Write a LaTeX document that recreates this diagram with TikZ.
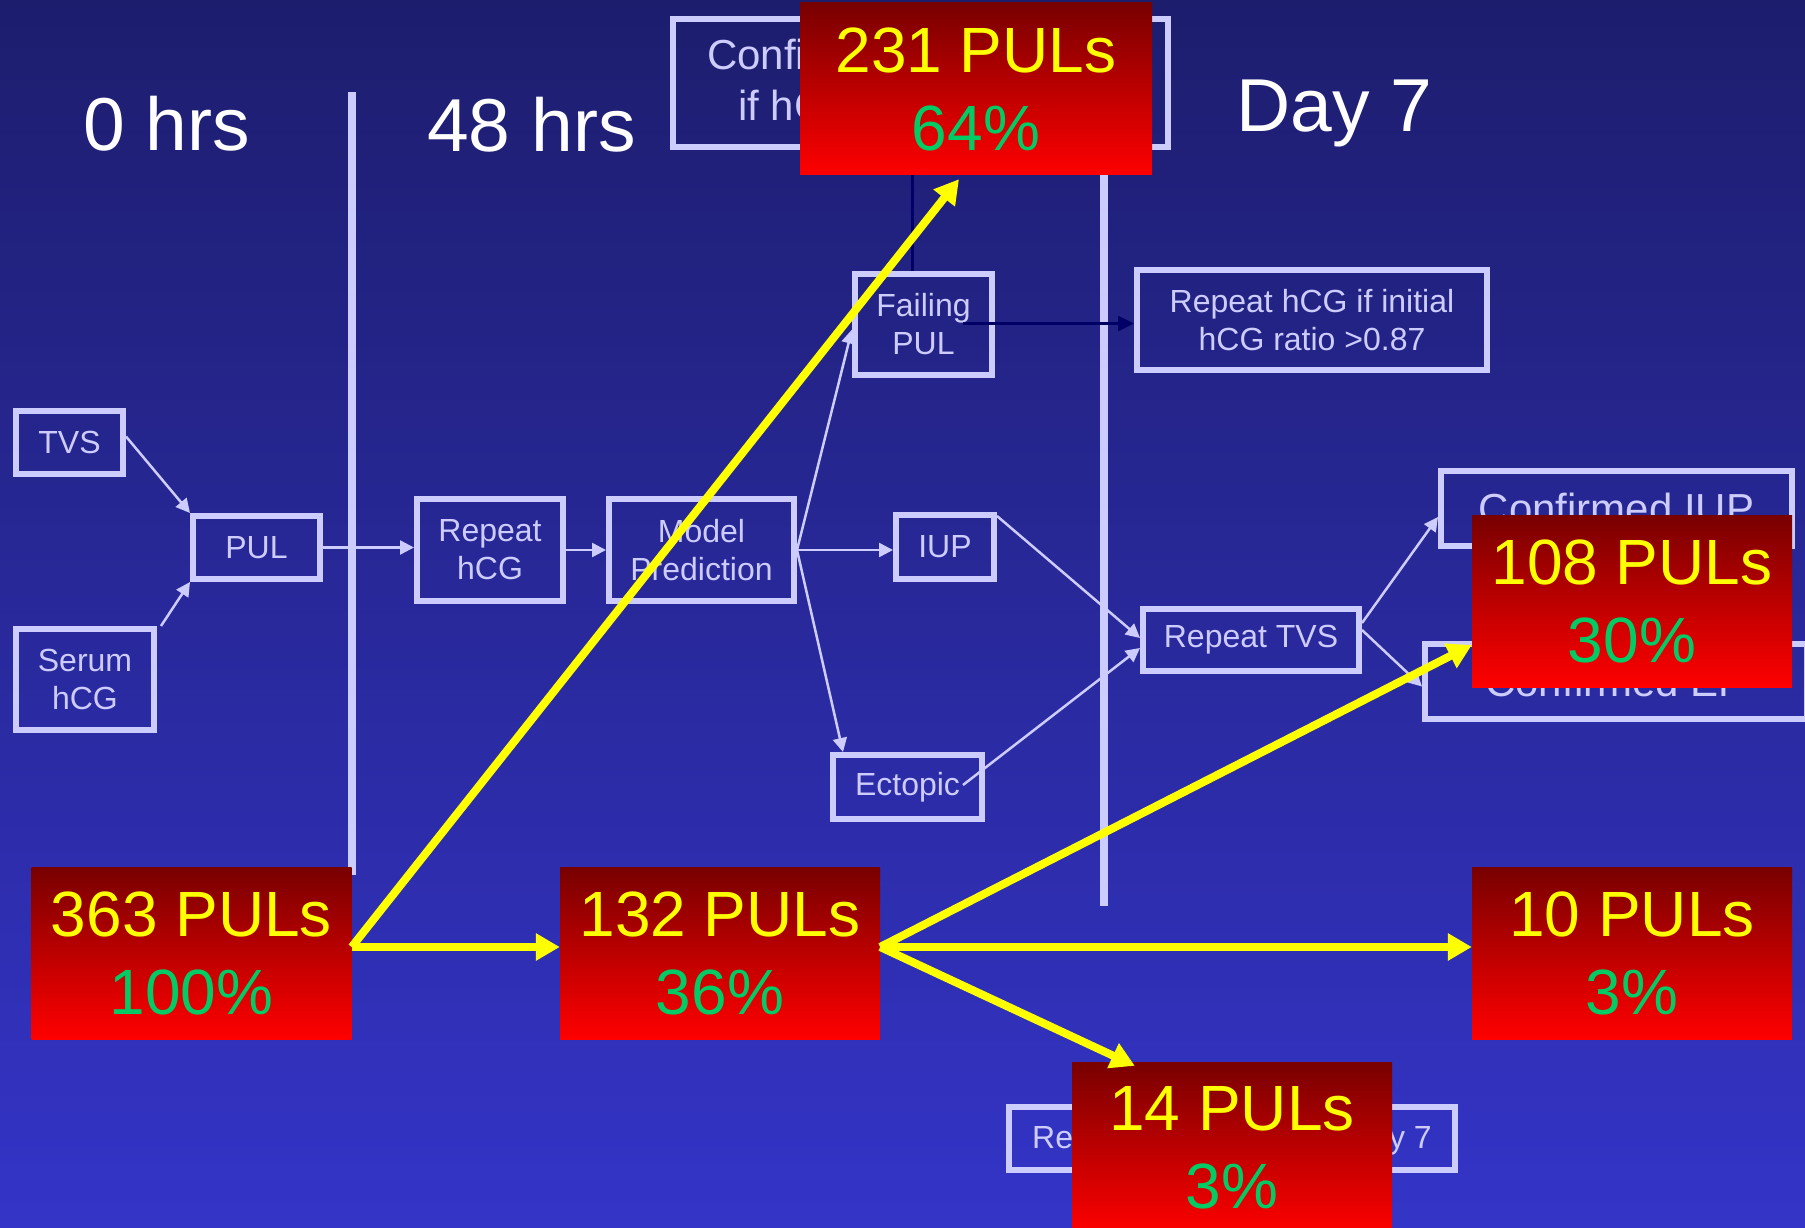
\documentclass[tikz,border=0pt]{standalone}
\usepackage{fontspec}
\setmainfont{Liberation Sans}
\usetikzlibrary{arrows.meta,calc}
\definecolor{bgtop}{RGB}{29,29,110}
\definecolor{bgbot}{RGB}{52,52,200}
\definecolor{lav}{RGB}{204,204,255}
\definecolor{rtop}{RGB}{120,0,0}
\definecolor{rbot}{RGB}{255,0,0}
\definecolor{yel}{RGB}{255,255,0}
\definecolor{grn}{RGB}{0,204,102}
\definecolor{navyc}{RGB}{0,0,102}
\begin{document}
\begin{tikzpicture}[x=1pt,y=-1pt,
  lbox/.style={draw=lav,line width=6pt,inner sep=0pt,align=center,text=lav,font=\fontsize{32}{38}\selectfont},
  bigtxt/.style={text=lav,inner sep=0pt,font=\fontsize{42}{50}\selectfont},
  smalltxt/.style={text=lav,inner sep=0pt,font=\fontsize{32}{38}\selectfont},
  redbox/.style={top color=rtop,bottom color=rbot,draw=none,inner sep=0pt,minimum width=320pt,minimum height=172pt,align=center,font=\fontsize{64}{78}\selectfont},
  conn/.style={draw=lav,line width=2.5pt,-{Triangle[length=14pt,width=14pt]}},
  dconn/.style={draw=navyc,line width=2.5pt,-{Triangle[length=16pt,width=15pt]}},
  yarr/.style={draw=yel,line width=8pt,-{Triangle[length=24pt,width=26pt]}},
  divider/.style={draw=lav,line width=8pt},
  header/.style={text=white,font=\fontsize{75}{90}\selectfont,inner sep=0pt,anchor=base}
]
\useasboundingbox (0,0) rectangle (1805,1228);
\clip (0,0) rectangle (1805,1228);
\shade[top color=bgtop,bottom color=bgbot] (0,0) rectangle (1805,1228);

% headers
\node[header] (h0) at (166.5,150) {0 hrs};
\node[header] (h48) at (531.5,152) {48 hrs};
\node[header] (h7) at (1334.5,132) {Day 7};

% lavender boxes
\node[lbox,minimum width=107pt,minimum height=63pt] (tvs) at (69.5,442.5) {TVS};
\node[lbox,minimum width=138pt,minimum height=101pt] (serum) at (85,679.5) {Serum\\hCG};
\node[lbox,minimum width=127pt,minimum height=63pt] (pul) at (256.5,547.5) {PUL};
\node[lbox,minimum width=146pt,minimum height=102pt] (rhcg) at (490,550) {Repeat\\hCG};
\node[lbox,minimum width=185pt,minimum height=102pt] (model) at (701.5,550) {Model\\Prediction};
\node[lbox,minimum width=98pt,minimum height=64pt] (iup) at (945,547) {IUP};
\node[lbox,minimum width=149pt,minimum height=64pt] (ectopic) at (907.5,787) {Ectopic};
\node[lbox,minimum width=137pt,minimum height=101pt] (failing) at (923.5,324.5) {Failing\\PUL};
\node[lbox,minimum width=495pt,minimum height=128pt] (confirm) at (920.5,83) {};
\node[bigtxt,anchor=base west] (conft1) at (707,70) {Confirm};
\node[bigtxt,anchor=base west] (conft2) at (738,121) {if hCG};
\node[lbox,minimum width=350pt,minimum height=100pt] (rhi) at (1312,320) {Repeat hCG if initial\\hCG ratio >0.87};
\node[lbox,minimum width=216pt,minimum height=62pt] (rtvs) at (1251,640) {Repeat TVS};
\node[lbox,minimum width=351pt,minimum height=75pt,font=\fontsize{42}{50}\selectfont] (ciup) at (1616.5,508.5) {Confirmed IUP};
\node[lbox,minimum width=382pt,minimum height=75pt,font=\fontsize{42}{50}\selectfont] (cep) at (1616,681.5) {Confirmed EP};
\node[lbox,minimum width=446pt,minimum height=63pt] (rday) at (1232,1138.5) {};
\node[smalltxt,anchor=base west] (rdayt1) at (1032,1148) {Re};
\node[smalltxt,anchor=base east] (rdayt2) at (1432,1148) {day 7};

% lavender connectors
\draw[conn] ([yshift=6pt]tvs.east) -- (pul.north west);
\draw[conn] ([xshift=4pt]serum.north east) -- (pul.south west);
\draw[conn] (pul.east) -- (pul.east -| rhcg.west);
\draw[conn] (rhcg.east) -- (model.west);
\draw[conn] (model.east) -- (model.east -| iup.west);
\draw[conn] (model.east) -- ([xshift=13pt]ectopic.north west);
\draw[conn] (model.east) -- ([yshift=-5pt]failing.west);
\draw[conn] ([yshift=-4pt]iup.north east) -- ([yshift=2pt]rtvs.west);
\draw[conn] ([xshift=-22pt,yshift=2pt]ectopic.east) -- ([yshift=-8pt]rtvs.west);
\draw[conn] ([yshift=17pt]rtvs.east) -- ([yshift=-8.5pt]ciup.west);
\draw[conn] ([yshift=10pt]rtvs.east) -- ([yshift=-5pt]cep.west);

% dividers
\coordinate (d1a) at (352,92); \coordinate (d1b) at (352,875);
\coordinate (d2a) at (1104,92); \coordinate (d2b) at (1104,906);
\draw[divider] (d1a) -- (d1b);
\draw[divider] (d2a) -- (d2b);

% dark connectors
\draw[dconn] ([xshift=-11pt]failing.north) -- ([xshift=-11pt]failing.north |- confirm.south);
\coordinate (fstart) at ([xshift=-32pt,yshift=1pt]failing.east);
\draw[dconn] (fstart) -- (fstart -| rhi.west);

% red boxes
\node[redbox,minimum width=352pt] (r231) at (976,89) {{\color{yel}231 PULs}\\{\color{grn}64\%}};
\node[redbox] (r108) at (1632,601) {{\color{yel}108 PULs}\\{\color{grn}30\%}};
\node[redbox] (r363) at (191.5,953) {{\color{yel}363 PULs}\\{\color{grn}100\%}};
\node[redbox] (r132) at (720,953) {{\color{yel}132 PULs}\\{\color{grn}36\%}};
\node[redbox] (r10) at (1632,953) {{\color{yel}10 PULs}\\{\color{grn}3\%}};
\node[redbox] (r14) at (1232,1148) {{\color{yel}14 PULs}\\{\color{grn}3\%}};

% yellow arrows
\draw[yarr] ([yshift=6pt]r363.east) -- ([yshift=6pt]r132.west);
\draw[yarr] ([yshift=6pt]r363.east) -- ([xshift=-17pt,yshift=-4pt]r231.south);
\draw[yarr] ([yshift=6pt]r132.east) -- ([yshift=-44pt]r108.west);
\draw[yarr] ([yshift=6pt]r132.east) -- ([yshift=6pt]r10.west);
\draw[yarr] ([yshift=6pt]r132.east) -- ([xshift=63pt,yshift=-4pt]r14.north west);
\end{tikzpicture}
\end{document}
